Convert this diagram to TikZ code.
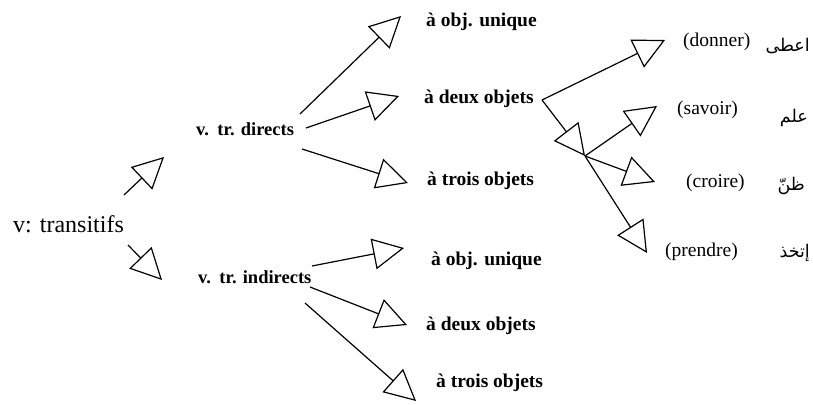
\documentclass[tikz,border=0pt]{standalone}
\usepackage{fontspec}
\setmainfont{Liberation Serif}
\newfontfamily\arabicfont[Script=Arabic]{DejaVu Sans}
\TeXXeTstate=1
\usetikzlibrary{arrows.meta}
\begin{document}
\begin{tikzpicture}[x=1pt,y=-1pt,
  lbl/.style={font=\fontsize{18.5}{20}\selectfont\bfseries, inner sep=0pt, anchor=base west},
  obj/.style={font=\fontsize{19.5}{21}\selectfont\bfseries, inner sep=0pt, anchor=base west},
  par/.style={font=\fontsize{19.5}{21}\selectfont, inner sep=0pt, anchor=base west},
  arab/.style={font=\arabicfont\fontsize{17.5}{20}\selectfont, inner sep=0pt, anchor=base east},
  arr/.style={line width=1.2pt, -{Triangle[open, length=31pt, width=31pt, line width=1.2pt]}}
]
\useasboundingbox (0,0) rectangle (813,404);
% text nodes
\node[anchor=base west, inner sep=0pt, font=\fontsize{24}{26}\selectfont] (vt) at (13,232) {v: transitifs};
\node[lbl] (vd) at (196,135) {v.\hspace{0.45em}tr. directs};
\node[lbl] (vi) at (198,283) {v.\hspace{0.45em}tr. indirects};
\node[obj] (u1) at (426,27) {à obj. unique};
\node[obj] (d1) at (424,103) {à deux objets};
\node[obj] (t1) at (427,185) {à trois objets};
\node[obj] (u2) at (431,265) {à obj. unique};
\node[obj] (d2) at (426,330) {à deux objets};
\node[obj] (t2) at (436,387) {à trois objets};
\node[par] (don) at (683,47) {(donner)};
\node[par] (sav) at (677,114) {(savoir)};
\node[par] (cro) at (686,187) {(croire)};
\node[par] (pre) at (665,256) {(prendre)};
\node[arab] (ar1) at (810,52) {\beginR اعطى\endR};
\node[arab] (ar2) at (808,122) {\beginR علم\endR};
\node[arab] (ar3) at (805,190) {\beginR ظنّ\endR};
\node[arab] (ar4) at (810,257) {\beginR إتخذ\endR};
% connector end points
\coordinate (a1s) at (124,195); \coordinate (a1e) at (164,157);
\coordinate (a2s) at (128,245); \coordinate (a2e) at (162,280);
\coordinate (b1s) at (300,114); \coordinate (b1e) at (401,16);
\coordinate (b2s) at (306,128); \coordinate (b2e) at (399,96);
\coordinate (b3s) at (302,149); \coordinate (b3e) at (408,183);
\coordinate (c1s) at (312,266); \coordinate (c1e) at (404,248);
\coordinate (c2s) at (310,287); \coordinate (c2e) at (407,325);
\coordinate (c3s) at (305,303); \coordinate (c3e) at (416,401);
\coordinate (es) at (542,100);
\coordinate (e0e) at (665,40);
\coordinate (hub) at (585,156);
\coordinate (f1e) at (657,106);
\coordinate (f2e) at (655,182);
\coordinate (f3e) at (647,253);
% connectors
\draw[arr] (a1s) -- (a1e);
\draw[arr] (a2s) -- (a2e);
\draw[arr] (b1s) -- (b1e);
\draw[arr] (b2s) -- (b2e);
\draw[arr] (b3s) -- (b3e);
\draw[arr] (c1s) -- (c1e);
\draw[arr] (c2s) -- (c2e);
\draw[arr] (c3s) -- (c3e);
\draw[arr] (es) -- (e0e);
\draw[arr] (es) -- (hub);
\draw[arr] (hub) -- (f1e);
\draw[arr] (hub) -- (f2e);
\draw[arr] (hub) -- (f3e);
\end{tikzpicture}
\end{document}
